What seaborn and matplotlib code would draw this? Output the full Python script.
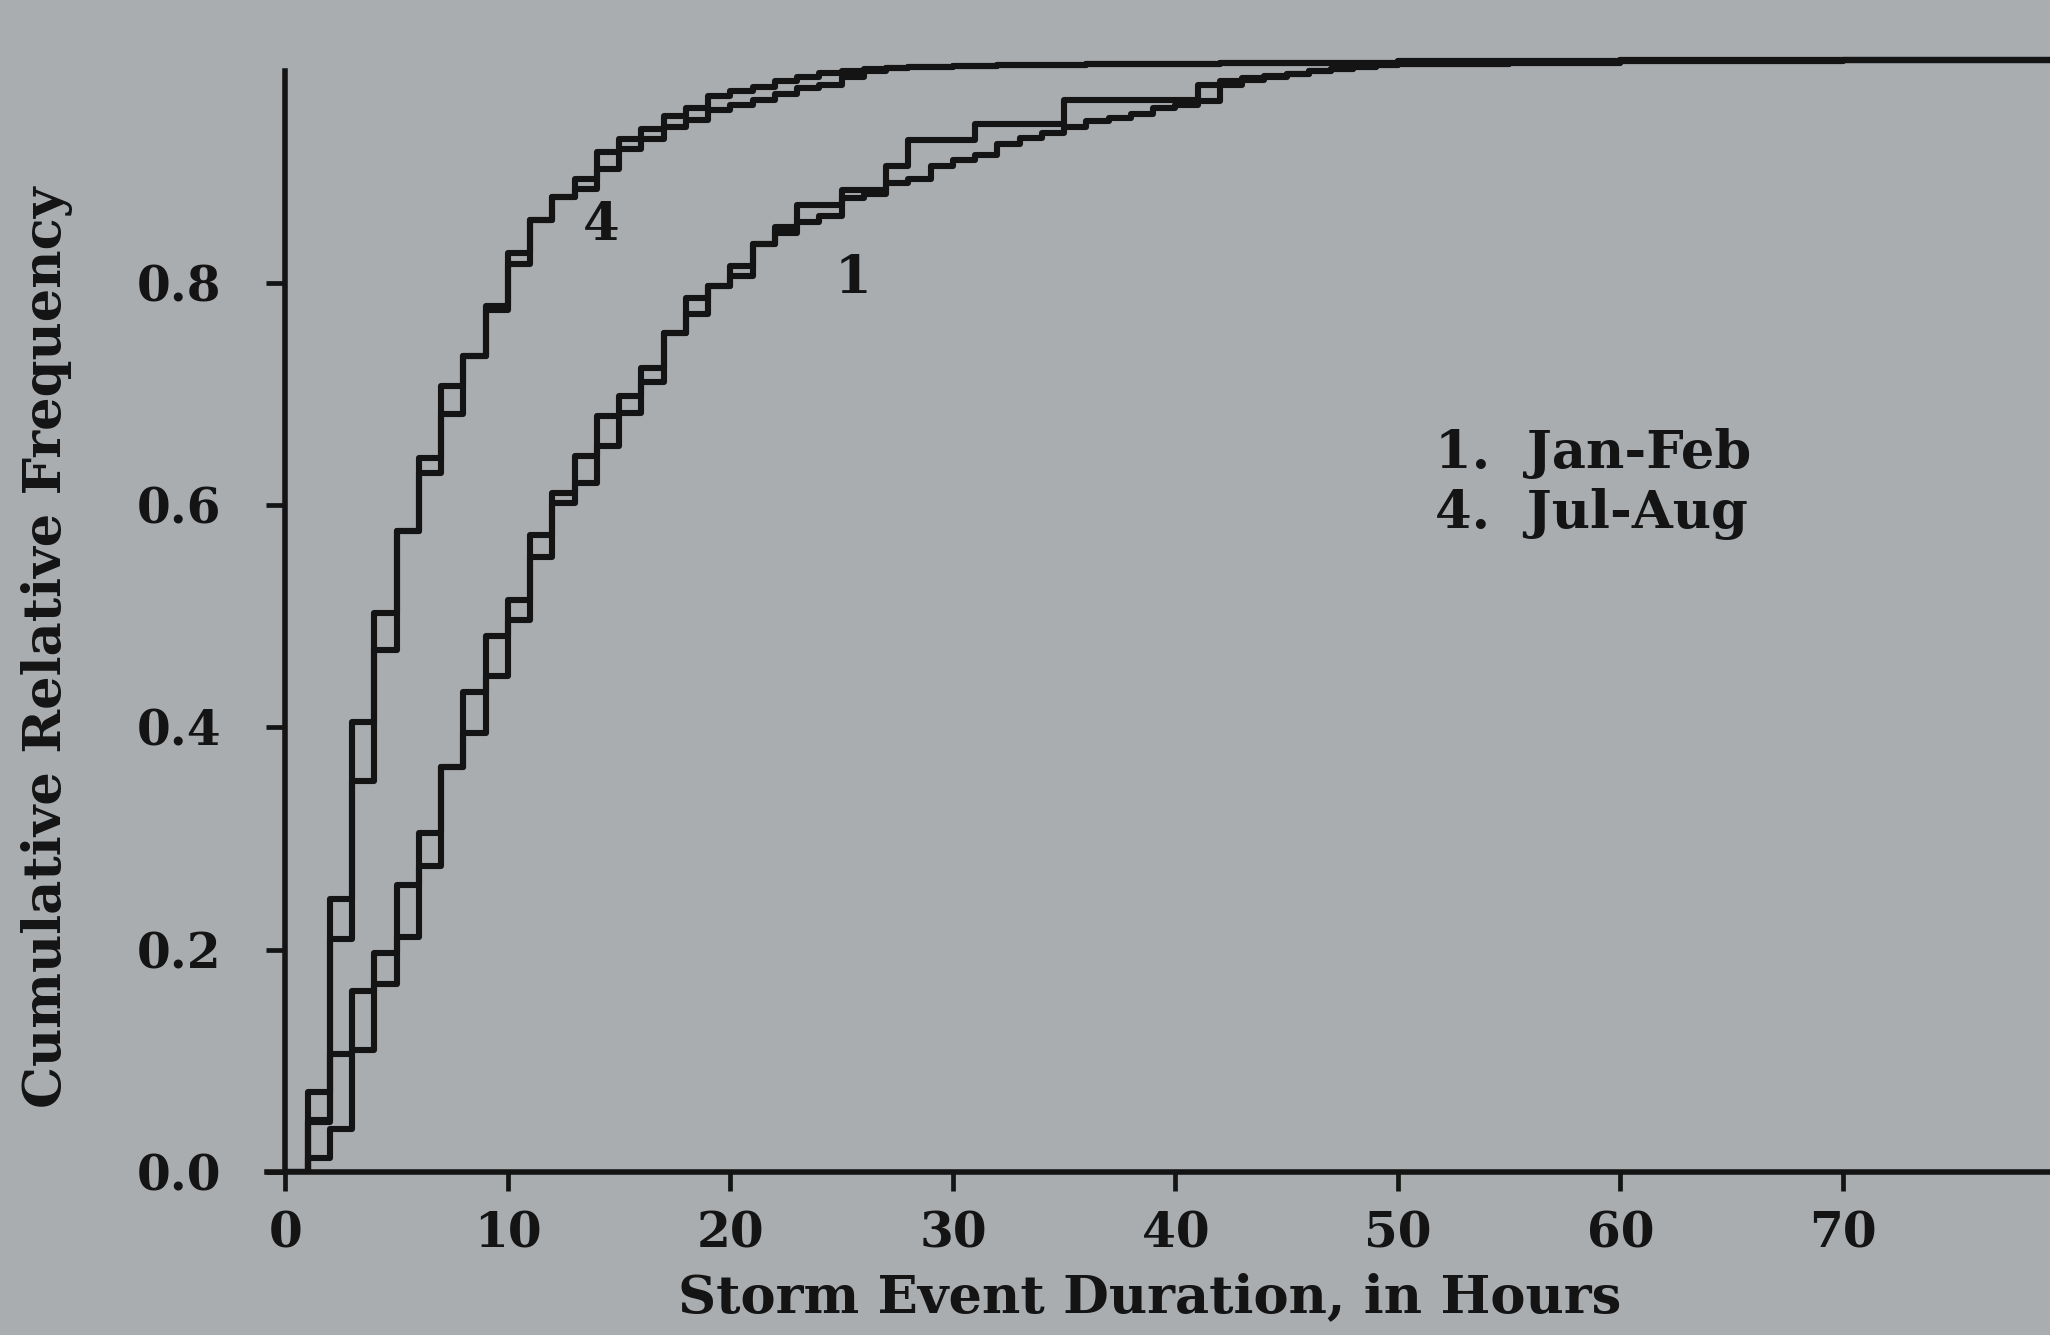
import matplotlib
matplotlib.use("Agg")
import matplotlib.pyplot as plt
import pandas as pd
import seaborn as sns

# Storm event duration (hours) at which each cumulative step is read
hours = list(range(0, 51)) + [55, 60, 70, 80]

# Jan-Feb: two step curves drawn together
jan_feb_a = [
    0.000, 0.045, 0.106, 0.163, 0.197, 0.258, 0.305, 0.364, 0.432, 0.482,
    0.515, 0.573, 0.611, 0.644, 0.680, 0.698, 0.723, 0.755, 0.786, 0.797,
    0.815, 0.835, 0.850, 0.870, 0.870, 0.883, 0.883, 0.905, 0.928, 0.928,
    0.928, 0.943, 0.943, 0.943, 0.943, 0.964, 0.964, 0.964, 0.964, 0.964,
    0.964, 0.978, 0.981, 0.984, 0.986, 0.988, 0.990, 0.992, 0.994, 0.996,
    0.997, 0.998, 0.999, 1.000, 1.000,
]
jan_feb_b = [
    0.000, 0.013, 0.039, 0.110, 0.169, 0.211, 0.275, 0.364, 0.395, 0.446,
    0.497, 0.553, 0.602, 0.620, 0.653, 0.683, 0.711, 0.755, 0.772, 0.797,
    0.806, 0.835, 0.845, 0.855, 0.860, 0.876, 0.880, 0.890, 0.893, 0.905,
    0.910, 0.915, 0.925, 0.930, 0.935, 0.940, 0.945, 0.948, 0.952, 0.957,
    0.960, 0.963, 0.978, 0.982, 0.985, 0.988, 0.990, 0.992, 0.994, 0.996,
    0.997, 0.998, 0.999, 1.000, 1.000,
]

# Jul-Aug: two step curves drawn together
jul_aug_a = [
    0.000, 0.072, 0.246, 0.405, 0.503, 0.577, 0.642, 0.707, 0.734, 0.779,
    0.827, 0.856, 0.877, 0.893, 0.918, 0.929, 0.938, 0.950, 0.957, 0.968,
    0.972, 0.976, 0.981, 0.985, 0.989, 0.990, 0.992, 0.993, 0.994, 0.994,
    0.995, 0.995, 0.996, 0.996, 0.996, 0.996, 0.997, 0.997, 0.997, 0.997,
    0.997, 0.997, 0.998, 0.998, 0.998, 0.998, 0.998, 0.998, 0.998, 0.998,
    0.999, 0.999, 1.000, 1.000, 1.000,
]
jul_aug_b = [
    0.000, 0.047, 0.210, 0.352, 0.470, 0.577, 0.629, 0.682, 0.734, 0.775,
    0.817, 0.856, 0.877, 0.884, 0.902, 0.920, 0.929, 0.940, 0.946, 0.955,
    0.960, 0.964, 0.970, 0.975, 0.978, 0.985, 0.990, 0.993, 0.994, 0.994,
    0.995, 0.995, 0.996, 0.996, 0.996, 0.996, 0.997, 0.997, 0.997, 0.997,
    0.997, 0.997, 0.998, 0.998, 0.998, 0.998, 0.998, 0.998, 0.998, 0.998,
    0.999, 0.999, 1.000, 1.000, 1.000,
]

x_ticks = [0, 10, 20, 30, 40, 50, 60, 70]
y_ticks = [0.0, 0.2, 0.4, 0.6, 0.8]
legend_lines = ["1.  Jan-Feb", "4.  Jul-Aug"]
x_label = "Storm Event Duration, in Hours"
y_label = "Cumulative Relative Frequency"

series = {
    "Jan-Feb a": jan_feb_a,
    "Jan-Feb b": jan_feb_b,
    "Jul-Aug a": jul_aug_a,
    "Jul-Aug b": jul_aug_b,
}
frames = [
    pd.DataFrame({"hours": hours, "freq": vals, "series": name})
    for name, vals in series.items()
]
df = pd.concat(frames, ignore_index=True)

paper = "#a9adb0"
ink = "#141414"

sns.set_style("ticks")
plt.rcParams["font.family"] = ["DejaVu Serif", "Liberation Serif"]
plt.rcParams["font.weight"] = "bold"
plt.rcParams["axes.labelweight"] = "bold"

fig = plt.figure(figsize=(20.5, 13.35), dpi=100, facecolor=paper)
ax = fig.add_axes([263 / 2050, 163 / 1335, 1787 / 2050, 1145 / 1335])
ax.set_facecolor(paper)

sns.lineplot(
    data=df, x="hours", y="freq", units="series", estimator=None,
    color=ink, linewidth=4.4, drawstyle="steps-post", legend=False,
    sort=False, ax=ax,
)

ax.set_xlim(-1, 79.3)
ax.set_ylim(0, 1.03)

for side in ("top", "right"):
    ax.spines[side].set_visible(False)
ax.spines["left"].set_position(("data", 0))
ax.spines["left"].set_bounds(0, 0.99)
ax.spines["bottom"].set_bounds(-0.8, 80)
for side in ("left", "bottom"):
    ax.spines[side].set_color(ink)
    ax.spines[side].set_linewidth(4.0)

ax.set_xticks(x_ticks)
ax.set_xticklabels([str(t) for t in x_ticks])
ax.set_yticks(y_ticks)
ax.set_yticklabels([f"{t:.1f}" for t in y_ticks])
ax.tick_params(axis="both", direction="out", length=14, width=3.4,
               color=ink, labelcolor=ink, labelsize=35)
ax.tick_params(axis="x", pad=14)
ax.tick_params(axis="y", pad=32)

ax.set_xlabel(x_label, fontsize=38, color=ink, va="center")
ax.xaxis.set_label_coords(0.496, -0.110)
ax.set_ylabel(y_label, fontsize=38, color=ink, va="center")
ax.yaxis.set_label_coords(-0.121, 0.4585)

# curve tags
ax.text(14.2, 0.851, "4", fontsize=38, color=ink, ha="center", va="center")
ax.text(25.5, 0.804, "1", fontsize=38, color=ink, ha="center", va="center")

# key
ax.text(51.65, 0.646, legend_lines[0], fontsize=38, color=ink,
        ha="left", va="center")
ax.text(51.65, 0.592, legend_lines[1], fontsize=38, color=ink,
        ha="left", va="center")

fig.savefig("out.png", dpi=100, facecolor=paper)
